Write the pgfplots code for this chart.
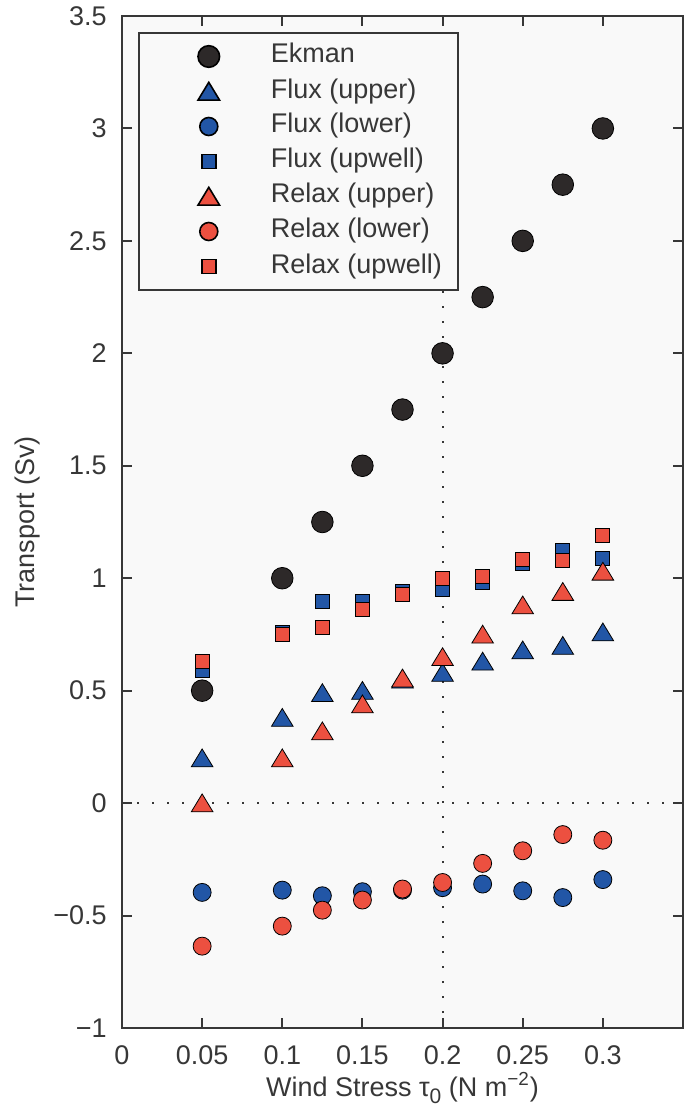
\documentclass[border=0pt]{standalone}
\usepackage{pgfplots}
\pgfplotsset{compat=1.18}
\usepackage{fontspec}
\setmainfont{Liberation Sans}
\definecolor{bgc}{RGB}{249,249,249}
\definecolor{axc}{RGB}{55,55,55}
\definecolor{mblue}{RGB}{34,86,166}
\definecolor{mred}{RGB}{236,80,64}
\definecolor{mblack}{RGB}{45,41,41}
\newcommand{\fs}{\fontsize{13.5}{16}\selectfont}
\pgfdeclareplotmark{mtri}{%
  \pgfpathmoveto{\pgfpoint{0pt}{0.85\pgfplotmarksize}}%
  \pgfpathlineto{\pgfpoint{\pgfplotmarksize}{-0.8\pgfplotmarksize}}%
  \pgfpathlineto{\pgfpoint{-\pgfplotmarksize}{-0.8\pgfplotmarksize}}%
  \pgfpathclose
  \pgfusepathqfillstroke}
\begin{document}
\begin{tikzpicture}
\useasboundingbox (-61pt,-40pt) rectangle (283pt,514pt);
\begin{axis}[
  at={(0,0)}, anchor=south west,
  scale only axis, width=280.5pt, height=506pt,
  xmin=0, xmax=0.35, ymin=-1, ymax=3.5,
  axis background/.style={fill=bgc},
  axis line style={draw=axc, line width=1pt},
  tick style={draw=axc, line width=1pt},
  major tick length=5pt,
  tick align=inside,
  xtick={0,0.05,0.1,0.15,0.2,0.25,0.3},
  xticklabels={0,0.05,0.1,0.15,0.2,0.25,0.3},
  ytick={-1,-0.5,0,0.5,1,1.5,2,2.5,3,3.5},
  yticklabels={−1,−0.5,0,0.5,1,1.5,2,2.5,3,3.5},
  ticklabel style={font=\fs, text=axc, inner sep=0pt},
  yticklabel style={anchor=east, xshift=-7.5pt},
  xticklabel style={anchor=north, yshift=-8.5pt},
  xlabel={Wind Stress τ\raisebox{-3.5pt}{\fontsize{10.5}{12}\selectfont 0} (N m\textsuperscript{−2})},
  ylabel={Transport (Sv)},
  label style={font=\fs, text=axc, inner sep=0pt},
  xlabel style={at={(axis description cs:0.5,0)}, anchor=base, yshift=-34pt},
  ylabel style={at={(axis description cs:0,0.5)}, anchor=center, rotate=0, yshift=47pt},
  legend cell align=left,
  legend image code/.code={%
    \path[draw=none,fill=none] (0pt,-6pt) rectangle (54pt,6pt);
    \draw[#1] plot coordinates {(27pt,0pt)};},
  legend style={at={(0.0285,0.984)}, anchor=north west,
    draw=axc, line width=0.8pt, fill=bgc, inner xsep=8pt, inner ysep=5.5pt,
    row sep=5pt, font=\fs, text=axc,
    nodes={inner sep=0pt, text height=9.5pt, text depth=3pt},
    /tikz/every odd column/.append style={column sep=4pt}},
  every axis plot/.append style={only marks, mark options={draw=axc, line width=0.75pt}},
]
\addplot[mark=*, mark size=5.4pt, mark options={fill=mblack}] coordinates {
(0.05,0.5)(0.1,1.0)(0.125,1.25)(0.15,1.5)(0.175,1.75)(0.2,2.0)(0.225,2.25)(0.25,2.5)(0.275,2.75)(0.3,3.0)};
\addlegendentry{Ekman}
\addplot[mark=mtri, mark size=5.4pt, mark options={fill=mblue}] coordinates {
(0.05,0.20)(0.1,0.38)(0.125,0.49)(0.15,0.50)(0.175,0.55)(0.2,0.58)(0.225,0.63)(0.25,0.68)(0.275,0.70)(0.3,0.76)};
\addlegendentry{Flux (upper)}
\addplot[mark=*, mark size=4.5pt, mark options={fill=mblue}] coordinates {
(0.05,-0.397)(0.1,-0.387)(0.125,-0.412)(0.15,-0.394)(0.175,-0.387)(0.2,-0.376)(0.225,-0.36)(0.25,-0.39)(0.275,-0.42)(0.3,-0.34)};
\addlegendentry{Flux (lower)}
\addplot[mark=square*, mark size=3.5pt, mark options={fill=mblue}] coordinates {
(0.05,0.59)(0.1,0.76)(0.125,0.895)(0.15,0.895)(0.175,0.94)(0.2,0.95)(0.225,0.98)(0.25,1.067)(0.275,1.125)(0.3,1.09)};
\addlegendentry{Flux (upwell)}
\addplot[mark=mtri, mark size=5.4pt, mark options={fill=mred}] coordinates {
(0.05,0.0)(0.1,0.20)(0.125,0.32)(0.15,0.44)(0.175,0.555)(0.2,0.65)(0.225,0.75)(0.25,0.88)(0.275,0.94)(0.3,1.03)};
\addlegendentry{Relax (upper)}
\addplot[mark=*, mark size=4.5pt, mark options={fill=mred}] coordinates {
(0.05,-0.636)(0.1,-0.547)(0.125,-0.476)(0.15,-0.431)(0.175,-0.382)(0.2,-0.353)(0.225,-0.268)(0.25,-0.212)(0.275,-0.14)(0.3,-0.165)};
\addlegendentry{Relax (lower)}
\addplot[mark=square*, mark size=3.5pt, mark options={fill=mred}] coordinates {
(0.05,0.628)(0.1,0.75)(0.125,0.78)(0.15,0.862)(0.175,0.93)(0.2,1.0)(0.225,1.01)(0.25,1.085)(0.275,1.08)(0.3,1.19)};
\addlegendentry{Relax (upwell)}
\addplot[forget plot, no marks, sharp plot, draw=axc, line width=1pt, dash pattern=on 1pt off 6.5pt] coordinates {(0,0)(0.35,0)};
\addplot[forget plot, no marks, sharp plot, draw=axc, line width=1pt, dash pattern=on 1pt off 6.5pt] coordinates {(0.2,-1)(0.2,3.5)};
\end{axis}
\end{tikzpicture}
\end{document}
